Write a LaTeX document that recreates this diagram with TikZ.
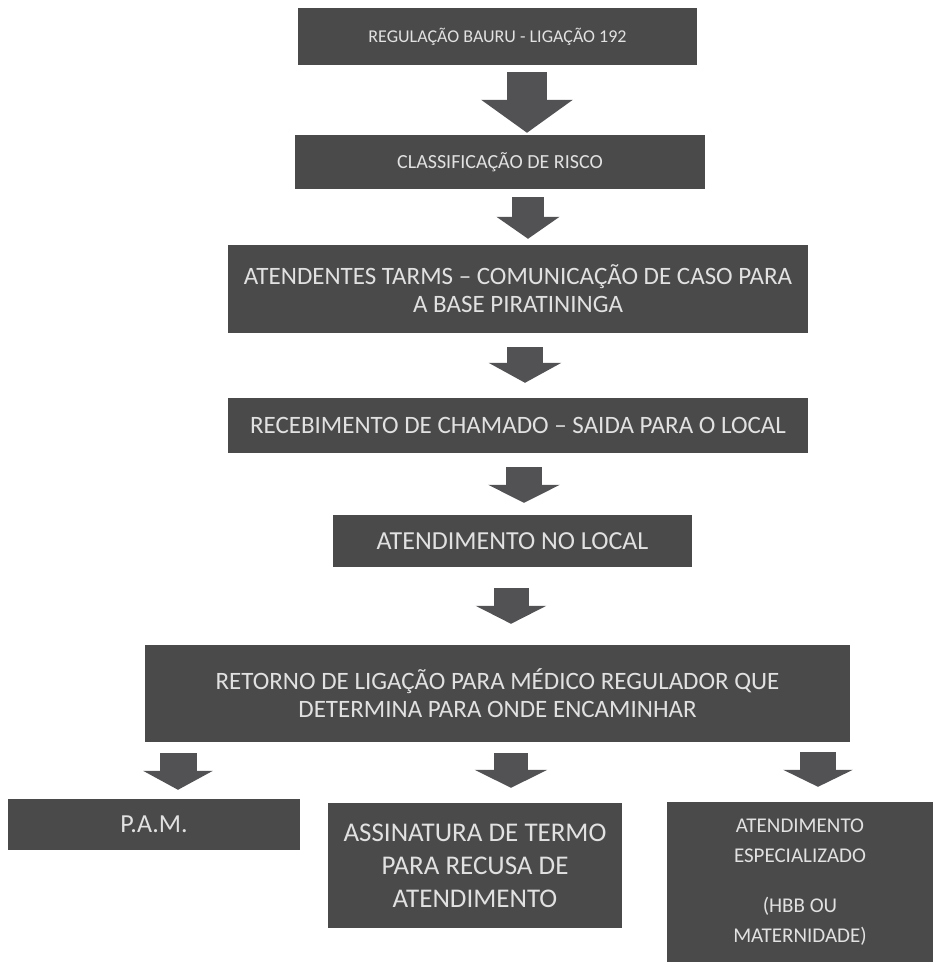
\documentclass[tikz,border=0pt]{standalone}
\usepackage{fontspec}
\setmainfont{Carlito}
\usepackage{xcolor}
\usetikzlibrary{arrows.meta,positioning}
\definecolor{C_box}{RGB}{74,74,74}
\definecolor{C_arrow}{RGB}{82,82,84}
\definecolor{C_text}{RGB}{225,225,225}

\begin{document}
\begin{tikzpicture}[
    x=1pt, y=-1pt,
    font=\fontsize{20}{29}\selectfont,
    stage/.style={fill=C_box, text=C_text, inner sep=0pt, align=center},
    blockarr/.style={draw=C_arrow, line cap=butt},
]
\useasboundingbox (0,0) rectangle (942,966);

% Main chain (coordinates in pixels of the scan)
\node[stage, minimum width=399pt, minimum height=57pt, font=\fontsize{18}{28}\selectfont] (b1) at (497.5,36.5) {REGULAÇÃO BAURU - LIGAÇÃO 192};
\node[stage, minimum width=410pt, minimum height=54pt] (b2) at (500,162) {CLASSIFICAÇÃO DE RISCO};
\node[stage, minimum width=580pt, minimum height=88pt, font=\fontsize{25}{28}\selectfont] (b3) at (518,289) {ATENDENTES TARMS – COMUNICAÇÃO DE CASO PARA\\A BASE PIRATININGA};
\node[stage, minimum width=580pt, minimum height=55pt, font=\fontsize{25}{28}\selectfont] (b4) at (518,425.5) {RECEBIMENTO DE CHAMADO – SAIDA PARA O LOCAL};
\node[stage, minimum width=359pt, minimum height=52pt, font=\fontsize{26}{28}\selectfont] (b5) at (512.5,541) {ATENDIMENTO NO LOCAL};
\node[stage, minimum width=705pt, minimum height=97pt, font=\fontsize{25}{28}\selectfont] (b6) at (497.5,693.5) {RETORNO DE LIGAÇÃO PARA MÉDICO REGULADOR QUE\\DETERMINA PARA ONDE ENCAMINHAR};

% Destinations
\node[stage, minimum width=292pt, minimum height=51pt, font=\fontsize{26}{28}\selectfont] (pam) at (154,824.5) {P.A.M.};
\node[stage, minimum width=294pt, minimum height=125pt, font=\fontsize{27}{33}\selectfont] (termo) at (475,865.5) {ASSINATURA DE TERMO\\PARA RECUSA DE\\ATENDIMENTO};
\node[stage, minimum width=266pt, minimum height=160pt, font=\fontsize{21}{30}\selectfont] (espec) at (800,882) {ATENDIMENTO\\ESPECIALIZADO\\[20pt](HBB OU\\MATERNIDADE)};

% Block arrows
\draw[blockarr, line width=40pt, -{Triangle[width=90pt,length=33pt]}]
    ([xshift=29.5pt,yshift=-7pt]b1.south) -- ([xshift=27pt,yshift=2pt]b2.north);
\draw[blockarr, line width=32pt, -{Triangle[width=62pt,length=22pt]}]
    ([xshift=28pt,yshift=-8pt]b2.south) -- ([xshift=10pt,yshift=6pt]b3.north);
\draw[blockarr, line width=36pt, -{Triangle[width=72pt,length=20pt]}]
    ([xshift=7pt,yshift=-14pt]b3.south) -- ([xshift=7pt,yshift=15pt]b4.north);
\draw[blockarr, line width=36pt, -{Triangle[width=71pt,length=18pt]}]
    ([xshift=6pt,yshift=-14pt]b4.south) -- ([xshift=11.5pt,yshift=12pt]b5.north);
\draw[blockarr, line width=35pt, -{Triangle[width=70pt,length=18pt]}]
    ([xshift=-1.5pt,yshift=-21pt]b5.south) -- ([xshift=13.5pt,yshift=21pt]b6.north);

% Branches
\draw[blockarr, line width=37pt, -{Triangle[width=69pt,length=19pt]}]
    ([xshift=-319.5pt,yshift=-11pt]b6.south) -- ([xshift=24pt,yshift=9pt]pam.north);
\draw[blockarr, line width=34pt, -{Triangle[width=72pt,length=18pt]}]
    ([xshift=13.5pt,yshift=-11pt]b6.south) -- ([xshift=36pt,yshift=15pt]termo.north);
\draw[blockarr, line width=36pt, -{Triangle[width=69pt,length=17pt]}]
    ([xshift=320.5pt,yshift=-10pt]b6.south) -- ([xshift=18pt,yshift=15pt]espec.north);
\end{tikzpicture}
\end{document}
